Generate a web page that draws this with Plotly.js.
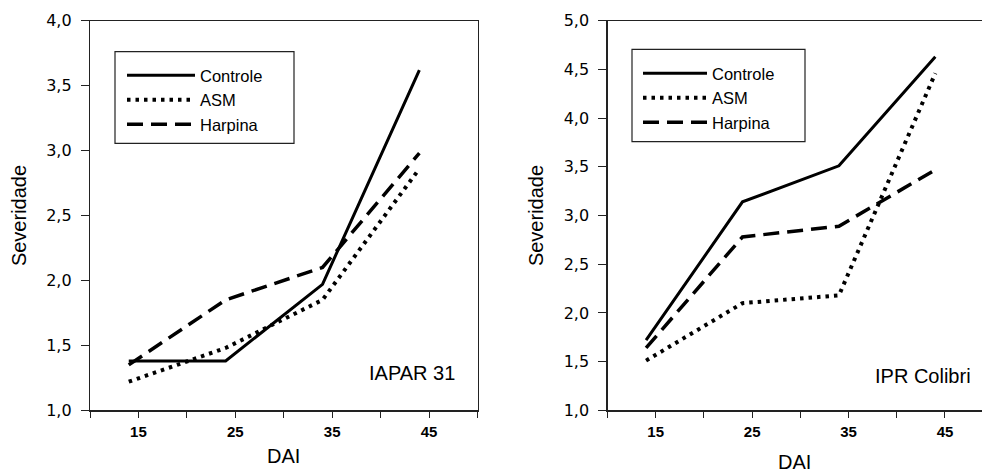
<!DOCTYPE html>
<html>
<head>
<meta charset="utf-8">
<script src="https://cdn.plot.ly/plotly-3.0.1.min.js"></script>
<style>
html,body{margin:0;padding:0;background:#fff;}
#chart{width:982px;height:473px;}
</style>
</head>
<body>
<div id="chart"></div>
<script>
// ---- data ----
var dai = [14, 24, 34, 44];
var seriesNames = ['Controle', 'ASM', 'Harpina'];

var iaparControle = [1.38, 1.38, 1.97, 3.62];
var iaparASM      = [1.22, 1.48, 1.85, 2.86];
var iaparHarpina  = [1.35, 1.85, 2.10, 2.98];

var colibriControle = [1.72, 3.14, 3.51, 4.63];
var colibriASM      = [1.51, 2.10, 2.18, 4.46];
var colibriHarpina  = [1.64, 2.78, 2.89, 3.47];

var xTickVals = [10, 15, 20, 25, 30, 35, 40, 45, 50];
var xTickText = ['', '15', '', '25', '', '35', '', '45', ''];
var panelLabels = ['IAPAR 31', 'IPR Colibri'];
var xTitle = 'DAI';
var yTitle = 'Severidade';

// ---- styles ----
var FONT = 'Liberation Sans, Arial, Helvetica, sans-serif';
var lineStyles = [
  {color: '#000', width: 3, dash: 'solid'},
  {color: '#000', width: 4, dash: '3.5px,5px'},
  {color: '#000', width: 3.5, dash: '16px,8px'}
];

function mk(y, i, xa, ya, leg) {
  return {
    x: dai, y: y, type: 'scatter', mode: 'lines',
    name: seriesNames[i], line: lineStyles[i],
    xaxis: xa, yaxis: ya, legend: leg, showlegend: true
  };
}

var traces = [
  mk(iaparControle, 0, 'x', 'y', 'legend'),
  mk(iaparASM, 1, 'x', 'y', 'legend'),
  mk(iaparHarpina, 2, 'x', 'y', 'legend'),
  mk(colibriControle, 0, 'x2', 'y2', 'legend2'),
  mk(colibriASM, 1, 'x2', 'y2', 'legend2'),
  mk(colibriHarpina, 2, 'x2', 'y2', 'legend2')
];

var W = 982, H = 473;
function px(v){ return v / W; }
function py(v){ return (H - v) / H; }

var xBase = {
  tickmode: 'array', tickvals: xTickVals, ticktext: xTickText,
  ticks: 'outside', ticklen: 6, tickwidth: 1, tickcolor: '#222',
  showline: true, linecolor: '#222', linewidth: 1.2, mirror: true,
  showgrid: false, zeroline: false,
  tickfont: {family: FONT, size: 15, color: '#000', weight: 'bold'},
  ticklabelstandoff: 1,
  title: {text: xTitle, font: {family: FONT, size: 20, color: '#000'}, standoff: 10}
};
function yBase(rng, mirror) {
  return {
    range: rng, dtick: 0.5, tick0: 1, tickformat: '.1f',
    ticks: 'outside', ticklen: 8, tickwidth: 1, tickcolor: '#222',
    showline: true, linecolor: '#222', linewidth: 1.2, mirror: mirror,
    showgrid: false, zeroline: false,
    tickfont: {family: 'DejaVu Sans, sans-serif', size: 16, color: '#000'},
    ticklabelstandoff: 6,
    title: {text: yTitle, font: {family: FONT, size: 20, color: '#000'}, standoff: 14}
  };
}

var xa1 = Object.assign({}, xBase, {domain: [px(90), px(477.5)], range: [10, 50], anchor: 'y'});
var xa2 = Object.assign({}, xBase, {domain: [px(607.5), 1], range: [10, 48.84], anchor: 'y2'});
xa2.title = {text: xTitle, font: {family: FONT, size: 20, color: '#000'}, standoff: 26};
var ya1 = Object.assign(yBase([1, 4], true), {domain: [py(410.3), py(20.7)], anchor: 'x'});
var ya2 = Object.assign(yBase([1, 5], false), {domain: [py(410.3), py(20.7)], anchor: 'x2'});

var legBase = {
  xref: 'paper', yref: 'paper', xanchor: 'left', yanchor: 'top',
  bgcolor: 'rgba(0,0,0,0)', borderwidth: 0,
  font: {family: FONT, size: 16.5, color: '#000'},
  tracegroupgap: 0
};

var layout = {
  width: W, height: H,
  margin: {l: 0, r: 0, t: 0, b: 0},
  paper_bgcolor: '#fff', plot_bgcolor: '#fff',
  separators: ',.',
  font: {family: FONT, color: '#000'},
  xaxis: xa1, yaxis: ya1, xaxis2: xa2, yaxis2: ya2,
  legend: Object.assign({}, legBase, {x: px(122), y: py(58), itemwidth: 68}),
  legend2: Object.assign({}, legBase, {x: px(638), y: py(56), itemwidth: 64}),
  shapes: [
    {type: 'rect', xref: 'paper', yref: 'paper', x0: px(115), x1: px(294), y0: py(143.3), y1: py(51.7),
     line: {color: '#222', width: 1.2}, fillcolor: 'rgba(0,0,0,0)', layer: 'above'},
    {type: 'rect', xref: 'paper', yref: 'paper', x0: px(632), x1: px(805), y0: py(141.7), y1: py(49.3),
     line: {color: '#222', width: 1.2}, fillcolor: 'rgba(0,0,0,0)', layer: 'above'}
  ],
  annotations: [
    {text: panelLabels[0], xref: 'x domain', yref: 'y domain', x: 0.832, y: 0.096,
     xanchor: 'center', yanchor: 'middle', showarrow: false,
     font: {family: FONT, size: 20, color: '#000'}},
    {text: panelLabels[1], xref: 'x2 domain', yref: 'y2 domain', x: 0.8425, y: 0.088,
     xanchor: 'center', yanchor: 'middle', showarrow: false,
     font: {family: FONT, size: 20, color: '#000'}}
  ]
};

Plotly.newPlot('chart', traces, layout, {staticPlot: true, displayModeBar: false});
</script>
</body>
</html>
